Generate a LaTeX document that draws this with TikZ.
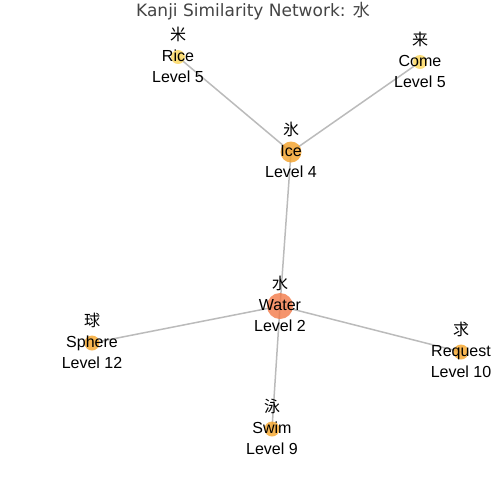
\documentclass[tikz,border=0pt]{standalone}
\usepackage{fontspec}
\setmainfont{Liberation Sans}
\newfontfamily\titlefont{DejaVu Sans}
\newfontfamily\cjk{Noto Sans CJK JP}
\usetikzlibrary{backgrounds}

\definecolor{edgegray}{HTML}{BBBBBB}
\definecolor{titlegray}{HTML}{444444}
\definecolor{lvltwo}{RGB}{242,121,71}
\definecolor{lvlfour}{RGB}{243,159,36}
\definecolor{lvlfive}{RGB}{251,214,89}
\definecolor{lvlhigh}{RGB}{245,164,39}

\tikzset{
  kanjidot/.style={circle, inner sep=0pt, fill opacity=0.8},
  kanjitext/.style={align=center, inner sep=0pt, font=\fontsize{16}{21}\selectfont},
  link/.style={draw=edgegray, line width=1.5pt},
}

\begin{document}
\begin{tikzpicture}[x=1pt, y=-1pt]
    \useasboundingbox (0,0) rectangle (504,504);
    \node[font=\titlefont\fontsize{17}{20}\selectfont, text=titlegray, anchor=base, inner sep=0pt] (title) at (253,16) {Kanji Similarity Network: {\cjk 水}};

    % markers
    \node[kanjidot, fill=lvlfive, minimum size=14] (rice) at (178,57) {};
    \node[kanjidot, fill=lvlfive, minimum size=14] (come) at (420,62) {};
    \node[kanjidot, fill=lvlfour, minimum size=21] (ice) at (291,152) {};
    \node[kanjidot, fill=lvltwo, minimum size=26] (water) at (280,306) {};
    \node[kanjidot, fill=lvlhigh, minimum size=15] (sphere) at (92,343) {};
    \node[kanjidot, fill=lvlhigh, minimum size=15] (request) at (461,352) {};
    \node[kanjidot, fill=lvlhigh, minimum size=15] (swim) at (272,429) {};

    % labels
    \node[kanjitext] (rice-text) at (rice) {{\cjk 米}\strut\\Rice\strut\\Level 5\strut};
    \node[kanjitext] (come-text) at (come) {{\cjk 来}\strut\\Come\strut\\Level 5\strut};
    \node[kanjitext] (ice-text) at (ice) {{\cjk 氷}\strut\\Ice\strut\\Level 4\strut};
    \node[kanjitext] (water-text) at (water) {{\cjk 水}\strut\\Water\strut\\Level 2\strut};
    \node[kanjitext] (sphere-text) at (sphere) {{\cjk 球}\strut\\Sphere\strut\\Level 12\strut};
    \node[kanjitext] (request-text) at (request) {{\cjk 求}\strut\\Request\strut\\Level 10\strut};
    \node[kanjitext] (swim-text) at (swim) {{\cjk 泳}\strut\\Swim\strut\\Level 9\strut};

    % edges
    \begin{scope}[on background layer]
        \draw[link] (ice.center) to (rice.center);
        \draw[link] (ice.center) to (come.center);
        \draw[link] (ice.center) to (water.center);
        \draw[link] (water.center) to (sphere.center);
        \draw[link] (water.center) to (request.center);
        \draw[link] (water.center) to (swim.center);
    \end{scope}
\end{tikzpicture}
\end{document}
